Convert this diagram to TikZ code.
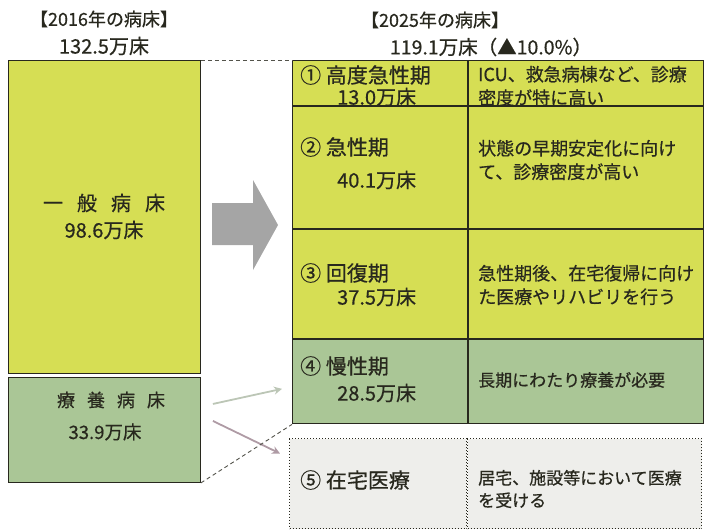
\documentclass[tikz,border=0pt]{standalone}
\usepackage{fontspec}
\setmainfont{Noto Sans CJK JP}[FakeBold=0.6]
\usetikzlibrary{arrows.meta}

\definecolor{bedyellow}{RGB}{214,222,84}
\definecolor{bedgreen}{RGB}{170,198,150}
\definecolor{homegray}{RGB}{238,238,235}
\definecolor{arrowgray}{RGB}{165,165,165}
\definecolor{inkdark}{RGB}{40,40,30}
\definecolor{chronicgray}{RGB}{188,198,182}
\definecolor{homemauve}{RGB}{175,155,165}

\begin{document}
\begin{tikzpicture}[x=1pt, y=-1pt,
    box/.style={draw=inkdark, line width=0.9pt, anchor=north west, inner sep=0pt},
    cell/.style={box, line width=1.1pt},
    homecell/.style={draw=inkdark, dotted, line width=1pt, fill=homegray, anchor=north west, inner sep=0pt},
    yeartitle/.style={inner sep=0pt, font=\fontsize{18}{21}\selectfont, text=inkdark},
    stagehead/.style={anchor=west, inner sep=0pt, font=\fontsize{21}{24}\selectfont, text=inkdark},
    bedcount/.style={anchor=west, inner sep=0pt, font=\fontsize{20}{23}\selectfont, text=inkdark},
    stagenote/.style={anchor=west, inner sep=0pt, align=left, font=\fontsize{18}{23.5}\selectfont, text=inkdark},
    flowarrow/.style={-{Stealth[length=8pt, width=8pt]}, line width=1.8pt},
    linkline/.style={draw=inkdark!80, line width=0.9pt, dash pattern=on 4pt off 3pt}]
  \useasboundingbox (0,0) rectangle (704,532);

  % 2016
  \node[yeartitle] (t2016) at (104,19) {【2016年の病床】};
  \node[yeartitle, font=\fontsize{20}{23}\selectfont] (n2016) at (104,46) {132.5万床};
  \node[box, fill=bedyellow, minimum width=192pt, minimum height=313pt] (ippan) at (8,60) {};
  \node[box, fill=bedgreen, minimum width=192pt, minimum height=105pt] (ryoyo) at (8,377) {};
  \node[yeartitle, font=\fontsize{20}{24}\selectfont] (l1) at (104,203) {一\hspace{14pt}般\hspace{14pt}病\hspace{14pt}床};
  \node[yeartitle, font=\fontsize{20}{23}\selectfont] (c1) at (104,230) {98.6万床};
  \node[yeartitle, font=\fontsize{18}{22}\selectfont] (l2) at (111,400) {療\hspace{12pt}養\hspace{12pt}病\hspace{12pt}床};
  \node[yeartitle, font=\fontsize{18.5}{21}\selectfont] (c2) at (105,432) {33.9万床};

  % 2025
  \node[yeartitle] (t2025) at (435,20) {【2025年の病床】};
  \node[yeartitle, font=\fontsize{19.5}{22}\selectfont] (n2025) at (491,47) {119.1万床（▲10.0\%）};

  \node[cell, fill=bedyellow, minimum width=175pt, minimum height=45pt] (s1) at (292,60) {};
  \node[cell, fill=bedyellow, minimum width=235pt, minimum height=45pt] (d1) at (s1.north east) {};
  \node[cell, fill=bedyellow, minimum width=175pt, minimum height=122pt] (s2) at (s1.south west) {};
  \node[cell, fill=bedyellow, minimum width=235pt, minimum height=122pt] (d2) at (s2.north east) {};
  \node[cell, fill=bedyellow, minimum width=175pt, minimum height=109pt] (s3) at (s2.south west) {};
  \node[cell, fill=bedyellow, minimum width=235pt, minimum height=109pt] (d3) at (s3.north east) {};
  \node[cell, fill=bedgreen, minimum width=175pt, minimum height=84pt] (s4) at (s3.south west) {};
  \node[cell, fill=bedgreen, minimum width=235pt, minimum height=84pt] (d4) at (s4.north east) {};
  \node[homecell, minimum width=177pt, minimum height=90pt] (s5) at (289,438) {};
  \node[homecell, minimum width=234pt, minimum height=90pt] (d5) at (s5.north east) {};

  \node[stagehead] (h1) at (300,75) {① 高度急性期};
  \node[bedcount] (b1) at (337,97) {13.0万床};
  \node[stagenote] (m1) at (478,86) {ICU、救急病棟など、診療\\密度が特に高い};
  \node[stagehead] (h2) at (300,147) {② 急性期};
  \node[bedcount] (b2) at (337,180) {40.1万床};
  \node[stagenote] (m2) at (478,160) {状態の早期安定化に向け\\て、診療密度が高い};
  \node[stagehead] (h3) at (300,273) {③ 回復期};
  \node[bedcount] (b3) at (337,297) {37.5万床};
  \node[stagenote] (m3) at (478,285) {急性期後、在宅復帰に向け\\た医療やリハビリを行う};
  \node[stagehead] (h4) at (300,366) {④ 慢性期};
  \node[bedcount] (b4) at (337,393) {28.5万床};
  \node[stagenote, font=\fontsize{17}{23}\selectfont] (m4) at (478,380) {長期にわたり療養が必要};
  \node[stagehead] (h5) at (300,480) {⑤ 在宅医療};
  \node[stagenote, font=\fontsize{17}{22.5}\selectfont] (m5) at (478,489) {居宅、施設等において医療\\を受ける};

  % arrows
  \fill[arrowgray] (212,203) -- (253,203) -- (253,180) -- (278,225) -- (253,270) -- (253,245) -- (212,245) -- cycle;
  \draw[flowarrow, draw=chronicgray] ([shift={(12,-26)}]ryoyo.east) -- ([shift={(-10,7)}]s4.west);
  \draw[flowarrow, draw=homemauve] ([shift={(12,-9)}]ryoyo.east) -- ([shift={(-9,-30)}]s5.west);

  \draw[linkline] (ippan.north east) -- (s1.north west);
  \draw[linkline] (ryoyo.south east) -- (s4.south west);
\end{tikzpicture}
\end{document}
